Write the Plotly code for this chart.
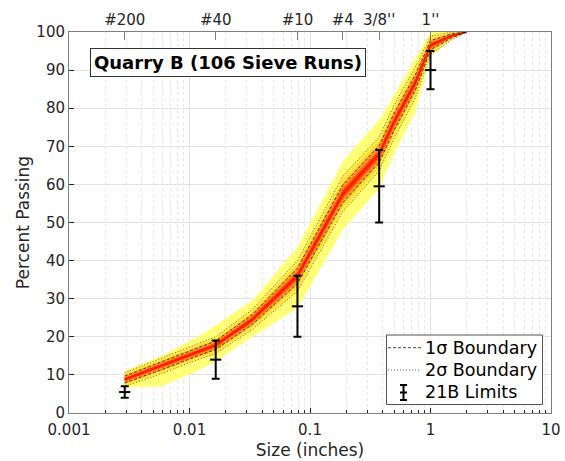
import numpy as np
import plotly.graph_objects as go

# ---------------- data ----------------
sizes = [0.0029, 0.0059, 0.0117, 0.0165, 0.0331, 0.0787, 0.187, 0.375, 0.5, 0.75, 1.0, 1.5, 2.0]
median = [8.8, 12.4, 16.0, 17.8, 24.5, 36.0, 57.5, 68.0, 76.5, 86.8, 96.5, 99.0, 100.0]
sigma = [0.9, 1.0, 1.0, 1.1, 1.3, 2.0, 2.3, 2.2, 2.2, 2.0, 1.2, 0.5, 0.0]
env_lo = [6.6, 7.0, 11.0, 13.5, 20.0, 27.5, 48.0, 59.0, 68.0, 79.0, 93.5, 98.0, 100.0]
env_hi = [11.0, 15.0, 20.0, 23.0, 29.5, 43.5, 66.0, 77.0, 83.5, 93.0, 100.0, 100.0, 100.0]

limit_sizes = [0.0029, 0.0165, 0.0787, 0.375, 1.0]
limit_lo = [4, 9, 20, 50, 85]
limit_hi = [7, 19, 36, 69, 95]

sieve_vals = [0.0029, 0.0165, 0.0787, 0.187, 0.375, 1.0]
sieve_text = ["#200", "#40", "#10", "#4", "3/8''", "1''"]

title_text = "Quarry B (106 Sieve Runs)"
legend_labels = ["1\u03c3 Boundary", "2\u03c3 Boundary", "21B Limits"]

# ---------------- figure ----------------
x = np.array(sizes)
m = np.array(median)
s = np.array(sigma)
xpoly = list(x) + list(x[::-1])

fig = go.Figure()

def band(lo, hi, color):
    lo = np.clip(lo, 0, 100)
    hi = np.clip(hi, 0, 100)
    fig.add_trace(go.Scatter(x=xpoly, y=list(hi) + list(lo[::-1]), fill="toself",
                             fillcolor=color, line=dict(width=0, color=color),
                             mode="lines", hoverinfo="skip", showlegend=False))

band(np.array(env_lo), np.array(env_hi), "#FFFF78")
heat_levels = [2.1, 1.6, 1.15, 0.75, 0.45, 0.25]
heat_colors = ["#FFF04E", "#FFD834", "#FFAE22", "#FF7A12", "#FF4A08", "#FF2200"]
for k, c in zip(heat_levels, heat_colors):
    band(m - k * s, m + k * s, c)
fig.add_trace(go.Scatter(x=x, y=m, mode="lines", line=dict(color="#FF1A00", width=2),
                         hoverinfo="skip", showlegend=False))

# sigma boundaries
for sign in (1, -1):
    fig.add_trace(go.Scatter(x=x, y=np.clip(m + sign * s, 0, 100), mode="lines",
                             line=dict(color="rgba(40,40,40,0.9)", width=1, dash="3px,2px"),
                             hoverinfo="skip", showlegend=False))
    fig.add_trace(go.Scatter(x=x, y=np.clip(m + sign * 2 * s, 0, 100), mode="lines",
                             line=dict(color="rgba(60,60,60,0.8)", width=1, dash="1px,2px"),
                             hoverinfo="skip", showlegend=False))

# 21B limits
lmid = [(a + b) / 2 for a, b in zip(limit_lo, limit_hi)]
lerr = [(b - a) / 2 for a, b in zip(limit_lo, limit_hi)]
fig.add_trace(go.Scatter(x=limit_sizes, y=lmid, mode="markers",
                         marker=dict(symbol="line-ew", size=8, line=dict(color="black", width=2)),
                         error_y=dict(type="data", array=lerr, symmetric=True, color="black",
                                      thickness=2, width=4),
                         hoverinfo="skip", showlegend=False))

# invisible trace for top axis
fig.add_trace(go.Scatter(x=sieve_vals, y=[50] * len(sieve_vals), xaxis="x2", mode="markers",
                         marker=dict(opacity=0), hoverinfo="skip", showlegend=False))

axcol = "#262626"
tickfont = dict(family="DejaVu Sans", size=15, color=axcol)
fig.update_layout(
    width=565, height=461,
    margin=dict(l=69, r=14, t=32, b=48, autoexpand=False),
    paper_bgcolor="white", plot_bgcolor="white",
    xaxis=dict(type="log", range=[-3, 1], showline=True, linecolor="#7f7f7f", linewidth=1,
               mirror=False, ticks="inside", ticklen=5, tickcolor=axcol, automargin=False,
               tickvals=[0.001, 0.01, 0.1, 1, 10], ticktext=["0.001", "0.01", "0.1", "1", "10"],
               tickfont=tickfont, showgrid=True, gridcolor="#E3E3E3", gridwidth=1,
               ticklabelstandoff=3,
               minor=dict(ticks="inside", ticklen=3, tickcolor=axcol, showgrid=True,
                          gridcolor="#E6E6E6", griddash="dot", dtick="D1"),
               title=dict(text="Size (inches)", font=dict(family="DejaVu Sans", size=17, color=axcol),
                          standoff=6),
               zeroline=False),
    xaxis2=dict(type="log", range=[-3, 1], overlaying="x", side="top", anchor="y",
                tickvals=sieve_vals, ticktext=sieve_text, ticks="inside", ticklen=8,
                tickcolor="#7f7f7f", tickfont=tickfont, showgrid=False, showline=True,
                linecolor="#7f7f7f", zeroline=False, automargin=False),
    yaxis=dict(range=[0, 100], dtick=10, showline=True, linecolor="#7f7f7f", linewidth=1,
               mirror=True, ticks="inside", ticklen=5, tickcolor=axcol, tickfont=tickfont,
               showgrid=True, gridcolor="#E3E3E3", zeroline=False, automargin=False,
               title=dict(text="Percent Passing", font=dict(family="DejaVu Sans", size=17, color=axcol),
                          standoff=2)),
    showlegend=False,
)

# title box
fig.add_annotation(xref="paper", yref="paper", x=(90 - 69) / 482, y=(413 - 48) / 381,
                   xanchor="left", yanchor="top", text="<b>" + title_text + "</b>",
                   showarrow=False, font=dict(family="DejaVu Sans", size=18, color="black"),
                   bgcolor="white", bordercolor="#333333", borderwidth=1, borderpad=3)

# manual legend
def px_x(p):
    return (p - 69) / 482.0

def px_y(p):
    return (413 - p) / 381.0

fig.add_shape(type="rect", xref="paper", yref="paper", x0=px_x(386.5), x1=px_x(542.5),
              y0=px_y(404.5), y1=px_y(335), line=dict(color="#555555", width=1), fillcolor="white")
rows = [347.7, 370, 391.7]
fig.add_shape(type="line", xref="paper", yref="paper", x0=px_x(388), x1=px_x(421),
              y0=px_y(rows[0]), y1=px_y(rows[0]), line=dict(color="#444444", width=1, dash="3px,2px"))
fig.add_shape(type="line", xref="paper", yref="paper", x0=px_x(388), x1=px_x(421),
              y0=px_y(rows[1]), y1=px_y(rows[1]), line=dict(color="#666666", width=1, dash="1px,2px"))
ex = 403.5
fig.add_shape(type="line", xref="paper", yref="paper", x0=px_x(ex), x1=px_x(ex),
              y0=px_y(385), y1=px_y(400), line=dict(color="black", width=2))
for yy in (385, 392.5, 400):
    fig.add_shape(type="line", xref="paper", yref="paper", x0=px_x(ex - 3.5), x1=px_x(ex + 3.5),
                  y0=px_y(yy), y1=px_y(yy), line=dict(color="black", width=2))
for lab, yy in zip(legend_labels, rows):
    fig.add_annotation(xref="paper", yref="paper", x=px_x(423), y=px_y(yy), xanchor="left",
                       yanchor="middle", text=lab, showarrow=False,
                       font=dict(family="DejaVu Sans", size=17.5, color="black"))

fig.write_html("out.html", config={"displayModeBar": False},
               post_script="document.body.style.margin='0px';")
